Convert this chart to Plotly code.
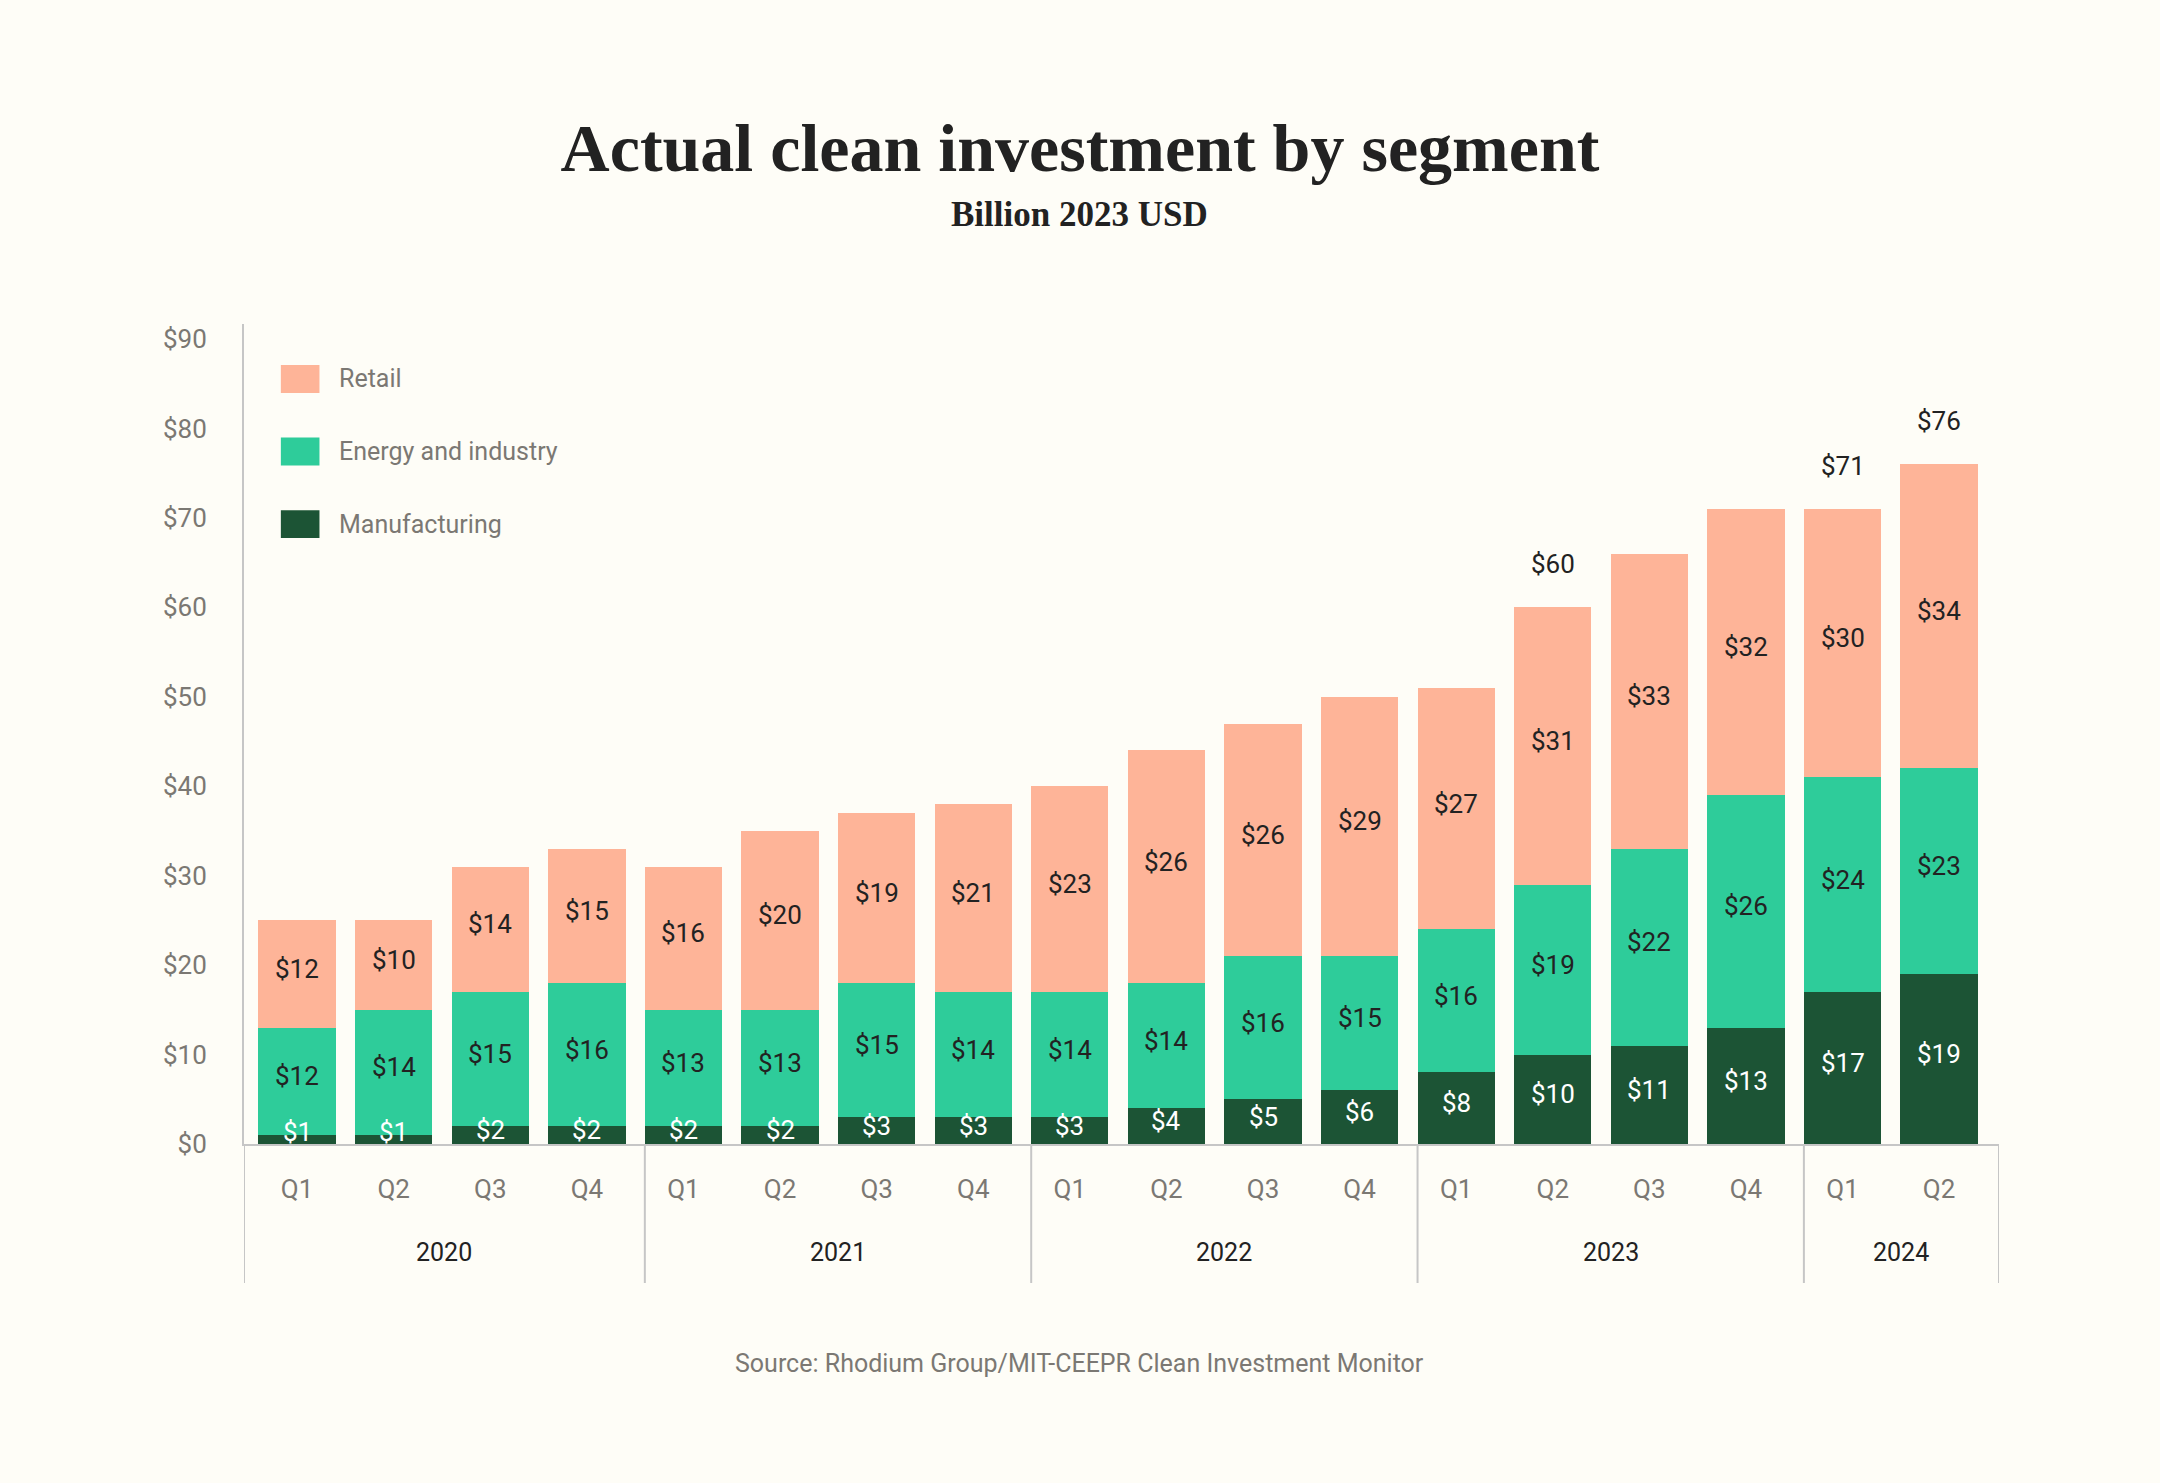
import plotly.graph_objects as go

# datos (miles de millones USD 2023)
quarters = ["Q1", "Q2", "Q3", "Q4"] * 4 + ["Q1", "Q2"]
years = [2020] * 4 + [2021] * 4 + [2022] * 4 + [2023] * 4 + [2024] * 2
manufacturing = [1, 1, 2, 2, 2, 2, 3, 3, 3, 4, 5, 6, 8, 10, 11, 13, 17, 19]
energy = [12, 14, 15, 16, 13, 13, 15, 14, 14, 14, 16, 15, 16, 19, 22, 26, 24, 23]
retail = [12, 10, 14, 15, 16, 20, 19, 21, 23, 26, 26, 29, 27, 31, 33, 32, 30, 34]
total_labels = {13: "$60", 16: "$71", 17: "$76"}
y_ticks = list(range(0, 100, 10))

BG = "#FEFDF7"
C_RETAIL = "#FEB498"
C_ENERGY = "#2ECC9A"
C_MANUF = "#1C5435"
GRIS = "#7b7873"
OSCURO = "#222222"
LINEA = "#c6c6c6"
FUENTE = "Roboto"
SERIF = "Liberation Serif"
BAR_W = 0.8
X_RANGE = [-0.55, 17.62]

x = list(range(len(quarters)))

series = [("Manufacturing", manufacturing, C_MANUF, "white"),
          ("Energy and industry", energy, C_ENERGY, OSCURO),
          ("Retail", retail, C_RETAIL, OSCURO)]

fig = go.Figure()
anotaciones = []
base = [0] * len(x)
for nombre, valores, color, color_txt in series:
    fig.add_trace(go.Bar(x=x, y=valores, name=nombre, width=BAR_W,
                         marker=dict(color=color, line=dict(width=0)),
                         showlegend=False))
    # etiquetas de valor centradas en cada tramo
    for i, v in enumerate(valores):
        yc = base[i] + max(v / 2, 0.8)
        anotaciones.append(dict(x=i, y=yc, xref="x", yref="y", text=f"${v}",
                                showarrow=False, yshift=5, yanchor="middle",
                                font=dict(family=FUENTE, size=26, color=color_txt)))
    base = [b + v for b, v in zip(base, valores)]

for i, txt in total_labels.items():
    anotaciones.append(dict(x=i, y=base[i], xref="x", yref="y", text=txt,
                            showarrow=False, yshift=43, yanchor="middle",
                            font=dict(family=FUENTE, size=26, color=OSCURO)))

# eje de años: separadores y etiquetas
formas = []
inicios = [i for i in x if i == 0 or years[i] != years[i - 1]]
limites = [X_RANGE[0]] + [i - BAR_W / 2 for i in inicios[1:]] + [X_RANGE[1]]
for b in limites:
    formas.append(dict(type="line", xref="x", yref="paper", x0=b, x1=b,
                       y0=0, y1=-0.1695, line=dict(color=LINEA, width=2)))
for k, i in enumerate(inicios):
    anotaciones.append(dict(x=(limites[k] + limites[k + 1]) / 2, y=-0.132,
                            xref="x", yref="paper", text=str(years[i]),
                            showarrow=False, yanchor="middle",
                            font=dict(family=FUENTE, size=25, color=OSCURO)))

# leyenda manual
leyenda = [("Retail", C_RETAIL), ("Energy and industry", C_ENERGY),
           ("Manufacturing", C_MANUF)]
for k, (nombre, color) in enumerate(leyenda):
    yc = 0.933 - k * 0.0885
    formas.append(dict(type="rect", xref="paper", yref="paper",
                       x0=0.021, x1=0.043, y0=yc - 0.017, y1=yc + 0.017,
                       fillcolor=color, line=dict(width=0)))
    anotaciones.append(dict(x=0.053, y=yc, xref="paper", yref="paper",
                            text=nombre, showarrow=False, xanchor="left",
                            yanchor="middle",
                            font=dict(family=FUENTE, size=25, color=GRIS)))

anotaciones.append(dict(x=0.476, y=1.134, xref="paper", yref="paper",
                        text="<b>Billion 2023 USD</b>", showarrow=False,
                        yanchor="middle",
                        font=dict(family=SERIF, size=35, color=OSCURO)))
anotaciones.append(dict(x=0.476, y=-0.268, xref="paper", yref="paper",
                        text="Source: Rhodium Group/MIT-CEEPR Clean Investment Monitor",
                        showarrow=False, yanchor="middle",
                        font=dict(family=FUENTE, size=25, color=GRIS)))

fig.update_layout(
    width=2160, height=1483,
    barmode="stack",
    paper_bgcolor=BG, plot_bgcolor=BG,
    margin=dict(l=244, r=161, t=324, b=339),
    title=dict(text="<b>Actual clean investment by segment</b>",
               x=0.5, xanchor="center", y=1 - 147 / 1483, yanchor="middle",
               font=dict(family=SERIF, size=68, color=OSCURO)),
    font=dict(family=FUENTE, size=25, color=GRIS),
    xaxis=dict(range=X_RANGE, tickvals=x, ticktext=quarters,
               showgrid=False, zeroline=False, showline=True,
               linecolor=LINEA, linewidth=2, ticks="", ticklabelstandoff=21,
               tickfont=dict(family=FUENTE, size=26, color=GRIS)),
    yaxis=dict(range=[0, 91.68], tickvals=y_ticks,
               ticktext=[f"${v}" for v in y_ticks],
               showgrid=False, zeroline=False, showline=True,
               linecolor=LINEA, linewidth=2, ticks="", ticklabelstandoff=30,
               tickfont=dict(family=FUENTE, size=26, color=GRIS)),
    shapes=formas,
    annotations=anotaciones,
)

fig.write_html("out.html", config={"displayModeBar": False},
               post_script="document.body.style.margin='0';"
                           "document.body.style.background='#FEFDF7';")
